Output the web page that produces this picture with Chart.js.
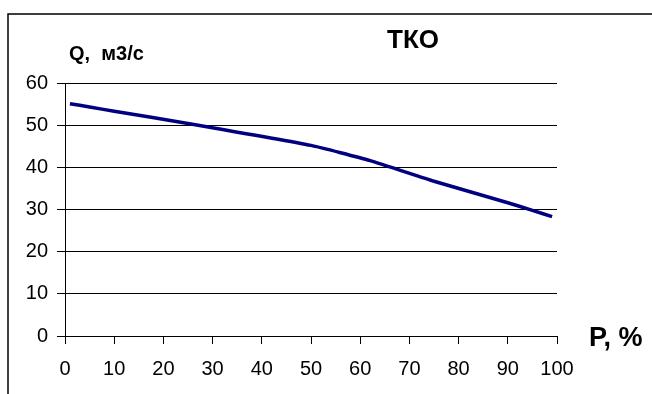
<!DOCTYPE html>
<html>
<head>
<meta charset="utf-8">
<script src="https://cdn.jsdelivr.net/npm/chart.js@4"></script>
<style>
  html, body { margin: 0; padding: 0; background: #fff; }
  #wrap { width: 652px; height: 394px; position: relative; }
</style>
</head>
<body>
<div id="wrap"><canvas id="c" width="652" height="394"></canvas></div>
<script>
// ---- data ----
const probability = [1, 5, 10, 25, 50, 62, 75, 90, 95, 99];          // P, %
const discharge   = [55.1, 54.3, 53.3, 50.4, 45.2, 41.6, 36.7, 31.6, 29.8, 28.3]; // Q, м3/с
const yTicks = [0, 10, 20, 30, 40, 50, 60];
const xTicks = [0, 10, 20, 30, 40, 50, 60, 70, 80, 90, 100];
const chartTitle = "ТКО";
const yAxisTitle = "Q,  м3/с";
const xAxisTitle = "P, %";

const FONT = "'Liberation Sans', Arial, sans-serif";
const points = probability.map((p, i) => ({ x: p, y: discharge[i] }));

const decor = {
  id: 'decor',
  afterDraw(chart) {
    const ctx = chart.ctx;
    ctx.save();
    // outer frame (only top and left edges visible)
    ctx.strokeStyle = '#000';
    ctx.lineWidth = 1.5;
    ctx.beginPath();
    ctx.moveTo(8, 394);
    ctx.lineTo(8, 14);
    ctx.lineTo(652, 14);
    ctx.stroke();
    ctx.fillStyle = '#000';
    ctx.textBaseline = 'middle';
    ctx.textAlign = 'center';
    ctx.font = "bold 26px " + FONT;
    ctx.fillText(chartTitle, 413, 41);
    ctx.textAlign = 'left';
    ctx.font = "bold 20px " + FONT;
    ctx.fillText(yAxisTitle, 69, 54);
    ctx.font = "bold 27px " + FONT;
    ctx.fillText(xAxisTitle, 589, 339);
    ctx.restore();
  }
};

new Chart(document.getElementById('c'), {
  type: 'line',
  data: {
    datasets: [{
      data: points,
      borderColor: '#000080',
      borderWidth: 3.5,
      pointRadius: 0,
      tension: 0.15,
      fill: false
    }]
  },
  options: {
    responsive: false,
    animation: false,
    devicePixelRatio: 1,
    layout: { padding: { left: 0, top: 83, right: 95, bottom: 0 } },
    plugins: { legend: { display: false }, tooltip: { enabled: false }, title: { display: false } },
    scales: {
      x: {
        type: 'linear',
        min: 0, max: 100,
        afterBuildTicks(s) { s.ticks = xTicks.map(v => ({ value: v })); },
        afterFit(s) { s.height = 58; },
        grid: { drawOnChartArea: false, drawTicks: true, tickLength: 8, color: '#000', lineWidth: 1 },
        border: { display: true, color: '#000', width: 1 },
        ticks: { color: '#000', font: { family: FONT, size: 20 }, padding: 13, maxRotation: 0, autoSkip: false }
      },
      y: {
        type: 'linear',
        min: 0, max: 60,
        afterBuildTicks(s) { s.ticks = yTicks.map(v => ({ value: v })); },
        afterFit(s) { s.width = 65; },
        grid: { drawOnChartArea: true, drawTicks: true, tickLength: 8, color: '#000', lineWidth: 1 },
        border: { display: true, color: '#000', width: 1 },
        ticks: { color: '#000', font: { family: FONT, size: 20 }, padding: 9 }
      }
    }
  },
  plugins: [decor]
});
</script>
</body>
</html>
